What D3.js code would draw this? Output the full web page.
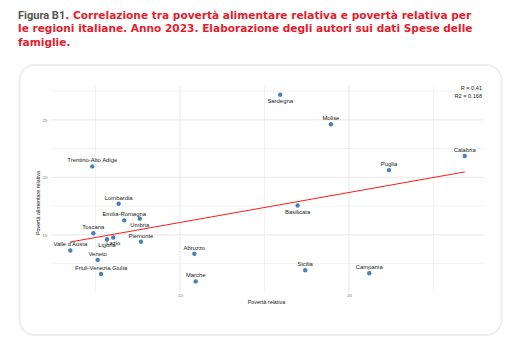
<!DOCTYPE html>
<html>
<head>
<meta charset="utf-8">
<script src="https://cdn.jsdelivr.net/npm/d3@7"></script>
<style>
  html, body { margin: 0; padding: 0; background: #fff; }
  svg { display: block; }
</style>
</head>
<body>
<svg id="chart" width="529" height="348"></svg>
<script>
// ---- Data ----
const regions = ["Trentino-Alto Adige","Sardegna","Molise","Puglia","Calabria","Lombardia",
  "Emilia-Romagna","Umbria","Toscana","Liguria","Lazio","Piemonte","Valle d'Aosta","Veneto",
  "Friuli-Venezia Giulia","Abruzzo","Marche","Basilicata","Sicilia","Campania"];
const povertaRelativa = [4.81,15.93,18.93,22.37,26.85,6.37,6.70,7.62,4.87,5.68,6.05,7.69,3.51,5.13,5.33,10.85,10.93,16.96,17.41,21.20];
const povertaAlimentare = [20.95,27.18,24.62,20.63,21.86,17.70,16.26,16.41,15.14,14.62,14.77,14.40,13.64,12.82,11.60,13.36,10.95,17.55,11.92,11.66];
const labelBelow = ["Sardegna","Basilicata","Umbria","Liguria","Lazio"];
const xTickLabels = [10, 20];
const yTickLabels = [15, 20, 25];
const xGrid = [5, 10, 15, 20, 25];
const yGrid = [12.5, 15, 17.5, 20, 22.5, 25, 27.5];
const statsText = ["R = 0.41", "R2 = 0.168"];

const titleLines = [
  ["Figura B1", ". Correlazione tra povertà alimentare relativa e povertà relativa per"],
  ["", "le regioni italiane. Anno 2023. Elaborazione degli autori sui dati Spese delle"],
  ["", "famiglie."]
];

const svg = d3.select("#chart");

// ---- Title ----
const red = "#e3202c";
const titleG = svg.append("g");
const baseSize = 10;
const lineY = [18.5, 32, 45.5];
const tEls = titleLines.map((l, i) => {
  const t = titleG.append("text").attr("x", 18).attr("y", lineY[i])
    .style("font-family", "'DejaVu Sans', 'Noto Sans', sans-serif")
    .style("font-weight", 700).style("font-size", baseSize + "px");
  if (l[0]) t.append("tspan").text(l[0]).attr("fill", "#555")
      .style("font-family", "'Liberation Sans Narrow', 'Roboto', sans-serif").style("font-size", "11px");
  t.append("tspan").text(l[1]).attr("fill", red);
  return t;
});
// fit font size to the reference width of line 2
const w2 = tEls[1].node().getComputedTextLength();
const fs = baseSize * (473 - 18) / w2;
tEls.forEach(t => t.style("font-size", fs + "px"));

// ---- Card ----
svg.append("rect").attr("x", 19.5).attr("y", 65).attr("width", 482).attr("height", 270)
  .attr("rx", 15).attr("fill", "#fff").attr("stroke", "#eeeeee").attr("stroke-width", 2);

// ---- Scales ----
const x = d3.scaleLinear().domain([2.367, 27.99]).range([51, 484]);
const y = d3.scaleLinear().domain([10.03, 28.03]).range([292, 85]);

const g = svg.append("g");
// grid
g.selectAll(".vg").data(xGrid).join("line")
  .attr("x1", d => x(d)).attr("x2", d => x(d)).attr("y1", y.range()[1]).attr("y2", y.range()[0])
  .attr("stroke", d => d % 10 === 0 ? "#e6e6e6" : "#ececec").attr("stroke-width", d => d % 10 === 0 ? 0.9 : 0.7);
g.selectAll(".hg").data(yGrid).join("line")
  .attr("y1", d => y(d)).attr("y2", d => y(d)).attr("x1", x.range()[0]).attr("x2", x.range()[1])
  .attr("stroke", d => d % 5 === 0 ? "#e6e6e6" : "#ececec").attr("stroke-width", d => d % 5 === 0 ? 0.9 : 0.7);

// axes tick labels via d3 axes (no domain/ticks lines)
const xAxis = d3.axisBottom(x).tickValues(xTickLabels).tickSize(0).tickPadding(2);
const xa = svg.append("g").attr("transform", `translate(0,${292})`).call(xAxis);
const yAxis = d3.axisLeft(y).tickValues(yTickLabels).tickSize(0).tickPadding(0);
const ya = svg.append("g").attr("transform", `translate(${47.5},0)`).call(yAxis);
[xa, ya].forEach(a => {
  a.select(".domain").remove();
  a.selectAll("text").attr("fill", "#777").style("font-family", "'Liberation Sans', Arial, sans-serif").style("font-size", "4.4px");
});

// axis titles
svg.append("text").attr("x", 266.5).attr("y", 303.5).attr("text-anchor", "middle")
  .style("font-family", "'Liberation Sans', Arial, sans-serif").style("font-size", "5.4px").attr("fill", "#222")
  .text("Povertà relativa");
svg.append("text").attr("transform", `translate(40,203) rotate(-90)`).attr("text-anchor", "middle")
  .style("font-family", "'Liberation Sans', Arial, sans-serif").style("font-size", "5.4px").attr("fill", "#222")
  .text("Povertà alimentare relativa");

// regression line computed from the data
const n = regions.length;
const mx = d3.mean(povertaRelativa), my = d3.mean(povertaAlimentare);
let sxy = 0, sxx = 0;
for (let i = 0; i < n; i++) { sxy += (povertaRelativa[i]-mx)*(povertaAlimentare[i]-my); sxx += (povertaRelativa[i]-mx)**2; }
const slope = sxy / sxx, inter = my - slope * mx;
const [x0, x1] = d3.extent(povertaRelativa);
g.append("line").attr("x1", x(x0)).attr("y1", y(inter + slope*x0)).attr("x2", x(x1)).attr("y2", y(inter + slope*x1))
  .attr("stroke", "#ff1a1a").attr("stroke-width", 1);

// points
const pts = regions.map((r, i) => ({ r, x: povertaRelativa[i], y: povertaAlimentare[i] }));
g.selectAll("circle").data(pts).join("circle")
  .attr("cx", d => x(d.x)).attr("cy", d => y(d.y)).attr("r", 2.2).attr("fill", "#4682b4");

// labels
g.selectAll(".lbl").data(pts).join("text")
  .attr("x", d => x(d.x)).attr("y", d => y(d.y) + (labelBelow.includes(d.r) ? (d.r === "Lazio" ? 7.6 : 8.2) : -4.2))
  .attr("text-anchor", "middle")
  .style("font-family", "'Liberation Sans', Arial, sans-serif").style("font-size", "5.9px").attr("fill", "#222")
  .text(d => d.r);

// stats annotation
svg.selectAll(".stat").data(statsText).join("text")
  .attr("x", 482).attr("y", (d, i) => 90 + i * 8.4).attr("text-anchor", "end")
  .style("font-family", "'Liberation Sans', Arial, sans-serif").style("font-size", "5.6px").attr("fill", "#222")
  .text(d => d);
</script>
</body>
</html>
